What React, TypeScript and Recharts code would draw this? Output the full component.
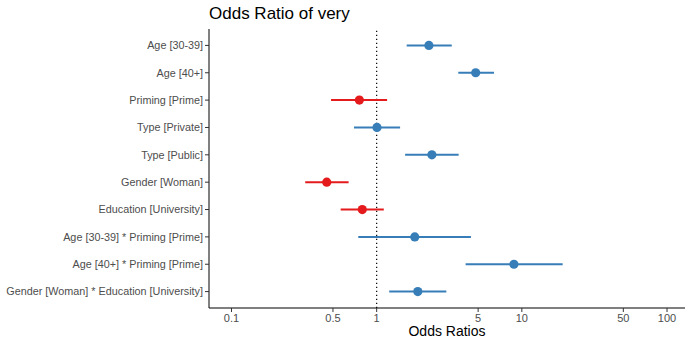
import React from 'react'
import { ComposedChart, Scatter, XAxis, YAxis, ErrorBar, ReferenceLine } from 'recharts'

const terms = [
  'Age [30-39]',
  'Age [40+]',
  'Priming [Prime]',
  'Type [Private]',
  'Type [Public]',
  'Gender [Woman]',
  'Education [University]',
  'Age [30-39] * Priming [Prime]',
  'Age [40+] * Priming [Prime]',
  'Gender [Woman] * Education [University]'
]
const oddsRatios = [2.29, 4.81, 0.76, 1.005, 2.4, 0.453, 0.796, 1.83, 8.82, 1.92]
const lowerCI = [1.61, 3.65, 0.485, 0.698, 1.57, 0.322, 0.565, 0.747, 4.1, 1.22]
const upperCI = [3.29, 6.43, 1.18, 1.45, 3.67, 0.641, 1.12, 4.46, 19.1, 3.02]
const xTicks = [0.1, 0.5, 1, 5, 10, 50, 100]

const BLUE = '#377EB8'
const RED = '#E41A1C'
const FONT = '"Liberation Sans", Arial, sans-serif'

const rows = terms.map((term, i) => ({
  term,
  row: i + 1,
  or: oddsRatios[i],
  err: [oddsRatios[i] - lowerCI[i], upperCI[i] - oddsRatios[i]]
}))
const positive = rows.filter(r => r.or >= 1)
const negative = rows.filter(r => r.or < 1)

const dot = (color: string) => (p: any) => (
  <circle cx={p.cx} cy={p.cy} r={4.6} fill={color} />
)

// single-line y labels (recharts wraps long tick text otherwise)
const TermTick = (p: any) => (
  <text x={p.x} y={p.y} dy="0.36em" textAnchor="end" fill="#4D4D4D" fontSize={10.8} fontFamily={FONT}>
    {terms[p.payload.value - 1]}
  </text>
)

const App: React.FC = () => {
  return (
    <div style={{ position: 'absolute', left: 0, top: 0, width: 685, height: 339, fontFamily: FONT, background: '#fff' }}>
      <div style={{ position: 'absolute', left: 209, top: 3, fontSize: 17, color: '#000', lineHeight: '22px' }}>
        Odds Ratio of very
      </div>
      <ComposedChart width={685} height={339} margin={{ top: 29, right: 0, bottom: 0, left: 0 }}>
        <XAxis
          xAxisId="top"
          orientation="top"
          type="number"
          scale="log"
          domain={[0.07, 133]}
          allowDataOverflow
          height={0}
          tick={false}
          tickLine={false}
          axisLine={{ stroke: '#9a9a9a', strokeWidth: 1 }}
        />
        <XAxis
          dataKey="or"
          type="number"
          scale="log"
          domain={[0.07, 133]}
          allowDataOverflow
          ticks={xTicks}
          tickFormatter={(v: number) => String(v)}
          height={31}
          tickSize={4}
          tickMargin={2}
          axisLine={{ stroke: '#000', strokeWidth: 1 }}
          tickLine={{ stroke: '#333' }}
          tick={{ fill: '#4D4D4D', fontSize: 11, fontFamily: FONT }}
          label={{ value: 'Odds Ratios', position: 'insideBottom', offset: 3, fill: '#000', fontSize: 14, fontFamily: FONT }}
        />
        <YAxis
          dataKey="row"
          type="number"
          domain={[0.4, 10.6]}
          reversed
          ticks={rows.map(r => r.row)}
          width={209}
          interval={0}
          tickSize={4}
          tickMargin={2}
          axisLine={{ stroke: '#000', strokeWidth: 1 }}
          tickLine={{ stroke: '#333' }}
          tick={TermTick}
        />
        <ReferenceLine x={1} stroke="#000" strokeDasharray="1.2 2.8" strokeWidth={1.2} />
        <Scatter data={positive} dataKey="or" fill={BLUE} shape={dot(BLUE)} isAnimationActive={false}>
          <ErrorBar dataKey="err" direction="x" width={0} stroke={BLUE} strokeWidth={2} />
        </Scatter>
        <Scatter data={negative} dataKey="or" fill={RED} shape={dot(RED)} isAnimationActive={false}>
          <ErrorBar dataKey="err" direction="x" width={0} stroke={RED} strokeWidth={2} />
        </Scatter>
      </ComposedChart>
    </div>
  )
}

export default App
